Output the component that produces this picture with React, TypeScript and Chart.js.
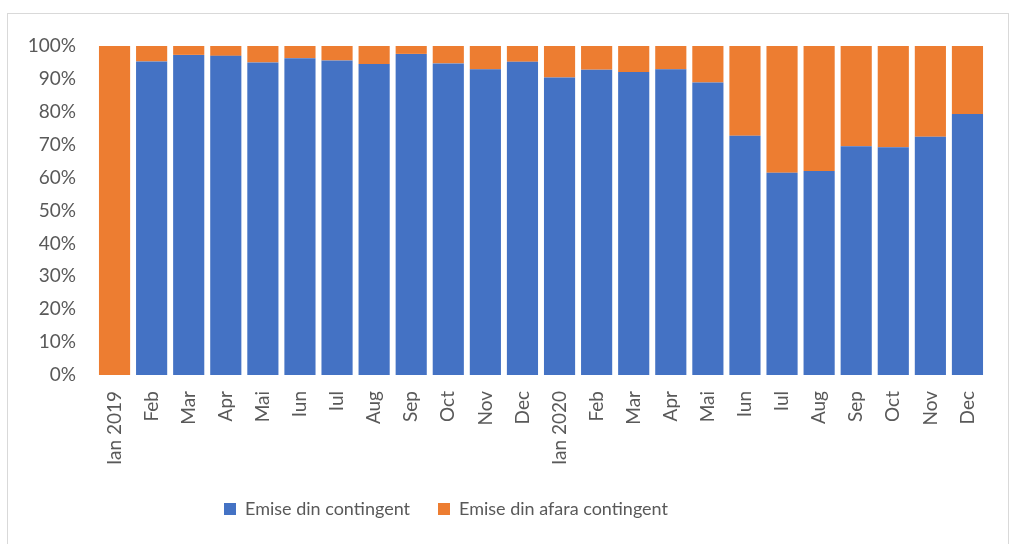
import React, { useEffect, useRef } from "react";
import { Chart, registerables } from "chart.js";

Chart.register(...registerables);

const categories = [
  "Ian 2019", "Feb", "Mar", "Apr", "Mai", "Iun", "Iul", "Aug", "Sep", "Oct", "Nov", "Dec",
  "Ian 2020", "Feb", "Mar", "Apr", "Mai", "Iun", "Iul", "Aug", "Sep", "Oct", "Nov", "Dec",
];

const dinContingent = [
  0, 95.3, 97.3, 97.0, 95.0, 96.3, 95.6, 94.5, 97.6, 94.7, 92.9, 95.2,
  90.4, 92.8, 92.1, 92.9, 88.9, 72.7, 61.5, 62.0, 69.5, 69.2, 72.4, 79.3,
];

const dinAfara = dinContingent.map((v) => Math.round((100 - v) * 10) / 10);

const yTicks = [0, 10, 20, 30, 40, 50, 60, 70, 80, 90, 100];

const FONT = "Lato, 'Open Sans', sans-serif";
const TEXT = "#595959";

const legendShift = {
  id: "legendShift",
  afterLayout(chart: any) {
    if (chart.legend) {
      chart.legend.left -= 51;
      chart.legend.right -= 51;
    }
  },
};

export default function App() {
  const ref = useRef<HTMLCanvasElement | null>(null);

  useEffect(() => {
    if (!ref.current) return;
    const chart = new Chart(ref.current, {
      type: "bar",
      data: {
        labels: categories,
        datasets: [
          {
            label: "Emise din contingent",
            data: dinContingent,
            backgroundColor: "#4472C4",
            borderWidth: 0,
            barPercentage: 0.84,
            categoryPercentage: 1,
          },
          {
            label: "Emise din afara contingent",
            data: dinAfara,
            backgroundColor: "#ED7D31",
            borderWidth: 0,
            barPercentage: 0.84,
            categoryPercentage: 1,
          },
        ],
      },
      plugins: [legendShift],
      options: {
        animation: false,
        responsive: false,
        maintainAspectRatio: false,
        layout: { padding: { top: 32, right: 22, left: 0, bottom: 16 } },
        plugins: {
          tooltip: { enabled: false },
          legend: {
            position: "bottom",
            labels: {
              boxWidth: 12,
              boxHeight: 12,
              padding: 28,
              color: TEXT,
              font: { family: FONT, size: 18 },
            },
          },
        },
        scales: {
          x: {
            stacked: true,
            grid: { display: false },
            border: { display: false },
            ticks: {
              color: TEXT,
              font: { family: FONT, size: 19 },
              minRotation: 90,
              maxRotation: 90,
              padding: 8,
              autoSkip: false,
            },
            afterFit: (scale: any) => {
              scale.height = 97;
            },
          },
          y: {
            stacked: true,
            min: 0,
            max: 100,
            grid: { display: false },
            border: { display: false },
            afterBuildTicks: (scale: any) => {
              scale.ticks = yTicks.map((v) => ({ value: v }));
            },
            ticks: {
              color: TEXT,
              font: { family: FONT, size: 19 },
              padding: 12,
              callback: (v: any) => `${v}%`,
            },
            afterFit: (scale: any) => {
              scale.width = 88;
            },
          },
        },
      },
    });
    return () => chart.destroy();
  }, []);

  return (
    <div
      style={{
        position: "absolute",
        left: 7,
        top: 13,
        width: 1000,
        height: 540,
        border: "1px solid #d9d9d9",
        background: "#fff",
      }}
    >
      <canvas ref={ref} width={1000} height={530} style={{ display: "block" }} />
    </div>
  );
}
